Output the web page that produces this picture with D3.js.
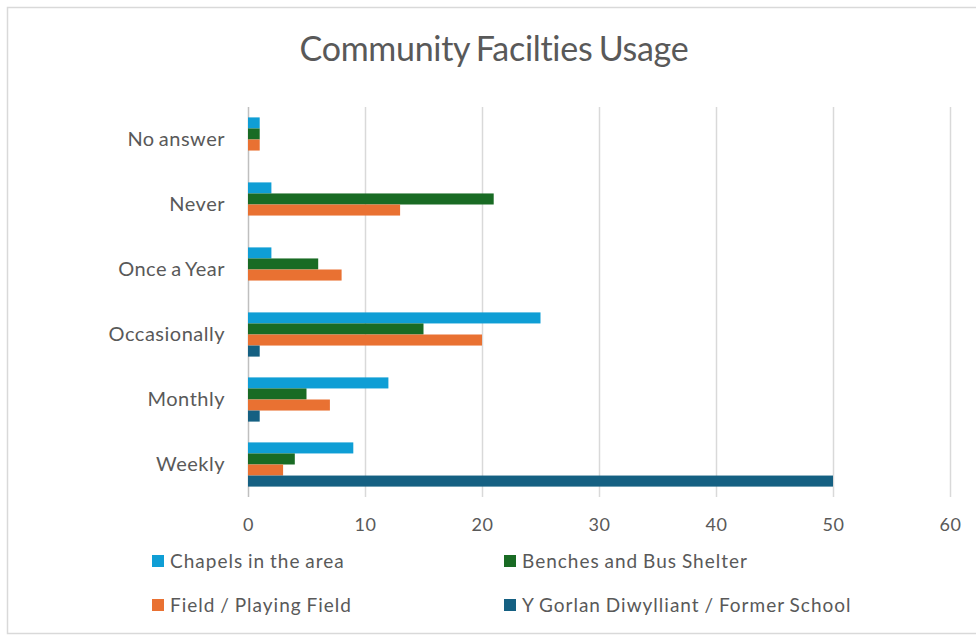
<!DOCTYPE html>
<html><head><meta charset="utf-8">
<script src="https://cdn.jsdelivr.net/npm/d3@7"></script>
<style>body{margin:0;background:#fff}svg{display:block}</style>
</head><body><svg id="c" width="976" height="637"></svg>
<script>
const categories = ["No answer","Never","Once a Year","Occasionally","Monthly","Weekly"];
const seriesNames = ["Chapels in the area","Benches and Bus Shelter","Field / Playing Field","Y Gorlan Diwylliant / Former School"];
const chapels = [1,2,2,25,12,9];
const benches = [1,21,6,15,5,4];
const field = [1,13,8,20,7,3];
const school = [0,0,0,1,1,50];
const xTicks = [0,10,20,30,40,50,60];
const colors = ["#0F9ED5","#196B24","#E97132","#156082"];
const title = "Community Facilties Usage";

(function(){
const values = [chapels, benches, field, school];
const svg = d3.select("#c");
const textColor = "#595959";
const font = "Lato, 'Open Sans', sans-serif";

svg.append("rect").attr("x",7.5).attr("y",7.5).attr("width",990).attr("height",626)
  .attr("fill","#fff").attr("stroke","#d9d9d9").attr("stroke-width",1.5);

const pL = 248, pR = 950, pT = 107, pB = 497;
const x = d3.scaleLinear().domain([0,60]).range([pL,pR]);
const y = d3.scaleBand().domain(categories).range([pT,pB]).paddingInner(0.32).paddingOuter(0.16);
const ys = d3.scaleBand().domain(d3.range(4)).range([0,y.bandwidth()]);

const xAxis = d3.axisBottom(x).tickValues(xTicks).tickSize(-(pB-pT)).tickPadding(21);
const gx = svg.append("g").attr("transform",`translate(0,${pB})`).call(xAxis);
gx.select(".domain").remove();
gx.selectAll(".tick line").attr("stroke","#d9d9d9").attr("stroke-width",1.5);
gx.selectAll(".tick").filter(d=>d===0).select("line").attr("stroke","#bfbfbf");
gx.selectAll(".tick text").attr("fill",textColor).style("font-family",font)
  .style("font-size","18px").style("letter-spacing","0.5px");

categories.forEach((c,i)=>{
  values.forEach((arr,s)=>{
    if(arr[i]>0){
      svg.append("rect").attr("x",x(0)).attr("y",y(c)+ys(s))
        .attr("width",x(arr[i])-x(0)).attr("height",ys.bandwidth())
        .attr("fill",colors[s]);
    }
  });
});

const yAxis = d3.axisLeft(y).tickSize(0).tickPadding(23);
const gy = svg.append("g").attr("transform",`translate(${pL},0)`).call(yAxis);
gy.select(".domain").remove();
gy.selectAll(".tick text").attr("fill",textColor).style("font-family",font)
  .style("font-size","20px").style("letter-spacing","0.5px").style("word-spacing","-1.5px");

svg.append("text").attr("x",494).attr("y",61).attr("text-anchor","middle")
  .attr("fill",textColor).style("font-family",font)
  .style("font-size","34px").style("letter-spacing","-0.3px").style("word-spacing","-2px").text(title);

const legPos = [[152,561],[504,561],[152,605],[504,605]];
seriesNames.forEach((n,i)=>{
  const g = svg.append("g").attr("transform",`translate(${legPos[i][0]},${legPos[i][1]})`);
  g.append("rect").attr("x",0).attr("y",-6).attr("width",12).attr("height",12).attr("fill",colors[i]);
  g.append("text").attr("x",18).attr("y",0).attr("dy","0.35em").attr("fill",textColor)
    .style("font-family",font).style("font-size","19px").style("letter-spacing","1px")
    .style("word-spacing","-1px").text(n);
});
})();
</script></body></html>
